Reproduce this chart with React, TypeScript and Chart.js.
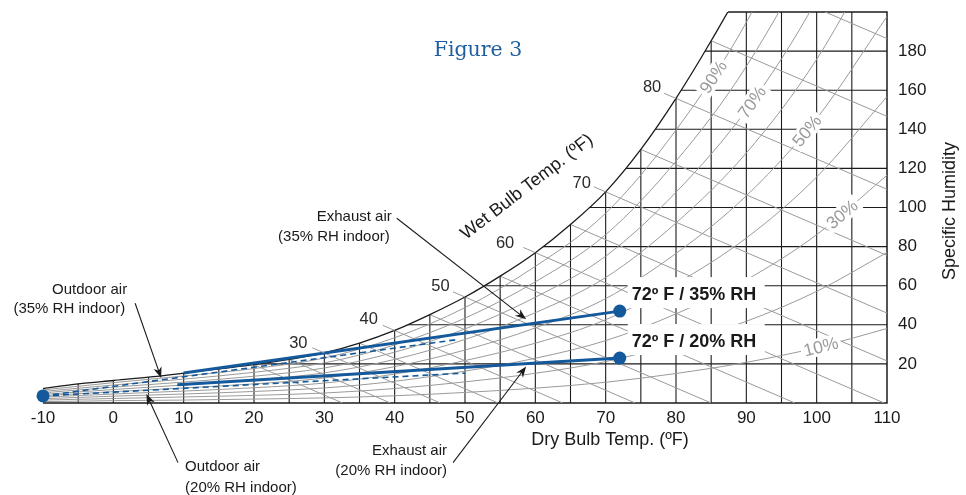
import React, { useEffect, useRef } from 'react';
import { Chart, registerables } from 'chart.js';

Chart.register(...registerables);

const SANS = '"Liberation Sans", Arial, Helvetica, sans-serif';
const SERIF = '"DejaVu Serif", serif';
const BLUE = '#13599b';
const GRAY = '#9a9a9a';
const INK = '#1b1b1b';

// ---- axes ----
const dryBulbMin = -10;
const dryBulbMax = 110;
const dryBulbTickStep = 10;
const gridDryBulbStep = 5;
const humidityMin = 0;
const humidityMax = 200;
const humidityTickStep = 20;

// ---- saturation curve (100% RH) ----
const satT = [-10, -5, 0, 5, 10, 15, 20, 25, 30, 35, 40, 45, 50, 55, 60, 65, 70, 75, 80, 85, 90, 95, 100, 105, 110];
const satW = [7.4, 9.8, 11.5, 13.2, 15.3, 17.5, 19.6, 22.3, 25.6, 30.6, 37.1, 45.2, 54.2, 64.9, 76.9, 91.3, 108, 129.7, 155.8, 185.3, 217.4, 256, 301, 354, 414];

// ---- relative humidity curves ----
const rhT = [-10, 0, 10, 20, 30, 40, 50, 60, 70, 80, 90, 100, 110];
const rh10 = [0.7, 1.2, 1.5, 2.0, 2.6, 3.7, 5.4, 7.6, 10.6, 15.1, 20.8, 28.3, 38.1];
const rh20 = [1.5, 2.3, 3.1, 3.9, 5.1, 7.4, 10.8, 15.2, 21.2, 30.3, 41.8, 57.1, 77.0];
const rh30 = [2.2, 3.5, 4.6, 5.9, 7.7, 11.1, 16.3, 22.9, 31.9, 45.6, 63.0, 86.1, 116.5];
const rh40 = [3.0, 4.6, 6.1, 7.8, 10.2, 14.8, 21.7, 30.6, 42.6, 61.0, 84.4, 115.6, 156.7];
const rh50 = [3.7, 5.8, 7.7, 9.8, 12.8, 18.6, 27.1, 38.4, 53.4, 76.5, 106.0, 145.5, 197.7];
const rh60 = [4.4, 6.9, 9.2, 11.8, 15.4, 22.3, 32.5, 46.2, 64.2, 92.1, 127.9, 175.8, 239.4];
const rh70 = [5.2, 8.1, 10.7, 13.7, 17.9, 26.0, 37.9, 54.1, 75.1, 107.8, 149.9, 206.4, 281.8];
const rh80 = [5.9, 9.2, 12.2, 15.7, 20.5, 29.7, 43.4, 62.0, 86.1, 123.7, 172.2, 237.5, 325.1];
const rh90 = [6.7, 10.4, 13.8, 17.6, 23.0, 33.4, 48.8, 69.9, 97.1, 139.6, 194.7, 269.0, 369.2];
const rhLevels = [10, 20, 30, 40, 50, 60, 70, 80, 90];
const rhCurves = [rh10, rh20, rh30, rh40, rh50, rh60, rh70, rh80, rh90];

// RH curve labels
const rhLabelLevel = [90, 70, 50, 30, 10];
const rhLabelT = [85.3, 90.8, 98.6, 103.6, 100.6];

// ---- wet bulb lines ----
const wetBulbT = [20, 25, 30, 35, 40, 45, 50, 55, 60, 65, 70, 75, 80, 85, 90];
const wetBulbEndT = [32.6, 39.4, 46.5, 54.7, 63.9, 74.2, 85, 96.9, 109.6, 110, 110, 110, 110, 110, 110];
const wetBulbEndW = [0, 0, 0, 0, 0, 0, 0, 0, 0, 21.5, 46, 75.5, 109.3, 146.6, 186.4];
const wetBulbLabels = ['30', '40', '50', '60', '70', '80'];
const wetBulbLabelT = [26.3, 36.3, 46.5, 55.7, 66.6, 76.6];
const wetBulbLabelW = [30.5, 42.6, 59.7, 81.7, 112.4, 161.6];

// ---- process lines ----
const statePointT = [-10, 72, 72];
const statePointW = [3.6, 47, 23];
const stateLabels = ['', '72º F / 35% RH', '72º F / 20% RH'];
const exhaust35T = [10, 72];
const exhaust35W = [15.3, 47];
const exhaust20T = [9.1, 72];
const exhaust20W = [9.3, 23];
const outdoor35T = [-10, 49];
const outdoor35W = [3.6, 32.5];
const outdoor20T = [-10, 50];
const outdoor20W = [3.6, 15.3];

// ---- annotations (arrow tail -> tip) ----
const noteLines = [
  ['Outdoor air', '(35% RH indoor)'],
  ['Outdoor air', '(20% RH indoor)'],
  ['Exhaust air', '(35% RH indoor)'],
  ['Exhaust air', '(20% RH indoor)'],
];
const noteTailT = [3.1, 9.2, 40.3, 48.3];
const noteTailW = [51, -30.5, 94.5, -30.5];
const noteTipT = [6.8, 4.7, 58.7, 58.7];
const noteTipW = [12.8, 4.6, 42.8, 18.7];

const pts = (t: number[], w: number[]) => t.map((v, i) => ({ x: v, y: w[i] }));

function drawArrow(ctx: CanvasRenderingContext2D, x1: number, y1: number, x2: number, y2: number) {
  const ang = Math.atan2(y2 - y1, x2 - x1);
  const c = Math.cos(ang), s = Math.sin(ang);
  const len = 11, half = 4.2;
  const bx = x2 - len * c, by = y2 - len * s;
  ctx.beginPath();
  ctx.moveTo(x1, y1);
  ctx.lineTo(x2 - 6 * c, y2 - 6 * s);
  ctx.stroke();
  ctx.beginPath();
  ctx.moveTo(x2, y2);
  ctx.lineTo(bx - half * s, by + half * c);
  ctx.lineTo(x2 - 0.7 * len * c, y2 - 0.7 * len * s);
  ctx.lineTo(bx + half * s, by - half * c);
  ctx.closePath();
  ctx.fill();
}

function linearAt(T: number[], W: number[], t: number) {
  for (let i = 0; i < T.length - 1; i++) {
    if (t >= T[i] && t <= T[i + 1]) {
      const f = (t - T[i]) / (T[i + 1] - T[i]);
      return W[i] + f * (W[i + 1] - W[i]);
    }
  }
  return W[W.length - 1];
}

const psychroPlugin = {
  id: 'psychro',
  beforeDatasetsDraw(chart: any) {
    const { ctx, chartArea: a, scales } = chart;
    const x = scales.x, y = scales.y;
    const satIdx = chart.data.datasets.findIndex((d: any) => d.label === 'Saturation');
    const line = chart.getDatasetMeta(satIdx).dataset;
    ctx.save();
    ctx.beginPath();
    ctx.rect(a.left - 2, a.top - 2, a.right - a.left + 4, a.bottom - a.top + 4);
    ctx.clip();
    ctx.beginPath();
    if (line && typeof line.path === 'function') {
      if (typeof line.updateControlPoints === 'function') line.updateControlPoints(a, 'x');
      line.path(ctx);
    } else {
      satT.forEach((t, i) => {
        const px = x.getPixelForValue(t), py = y.getPixelForValue(satW[i]);
        if (i === 0) ctx.moveTo(px, py); else ctx.lineTo(px, py);
      });
    }
    const last = satT.length - 1;
    ctx.lineTo(x.getPixelForValue(satT[last]) + 3, y.getPixelForValue(satW[last]));
    ctx.lineTo(a.right + 3, a.bottom + 3);
    ctx.lineTo(a.left - 3, a.bottom + 3);
    ctx.closePath();
    ctx.clip();

    ctx.strokeStyle = INK;
    ctx.lineWidth = 1.1;
    ctx.beginPath();
    for (let t = dryBulbMin + gridDryBulbStep; t < dryBulbMax; t += gridDryBulbStep) {
      const px = x.getPixelForValue(t);
      ctx.moveTo(px, a.bottom);
      ctx.lineTo(px, a.top);
    }
    for (let w = humidityMin + humidityTickStep; w < humidityMax; w += humidityTickStep) {
      const py = y.getPixelForValue(w);
      ctx.moveTo(a.left, py);
      ctx.lineTo(a.right, py);
    }
    ctx.stroke();
    ctx.lineWidth = 1.5;
    ctx.beginPath();
    ctx.moveTo(a.left, a.bottom);
    ctx.lineTo(a.right, a.bottom);
    ctx.lineTo(a.right, a.top);
    ctx.lineTo(a.left, a.top);
    ctx.stroke();
    ctx.restore();
  },
  afterDatasetsDraw(chart: any) {
    const { ctx, scales } = chart;
    const x = scales.x, y = scales.y;
    const X = (t: number) => x.getPixelForValue(t);
    const Y = (w: number) => y.getPixelForValue(w);
    ctx.save();

    // wet bulb leaders + labels
    ctx.font = `16.5px ${SANS}`;
    ctx.textAlign = 'center';
    ctx.textBaseline = 'middle';
    wetBulbLabels.forEach((lab, i) => {
      const twb = Number(lab);
      const k = wetBulbT.indexOf(twb);
      const sIdx = satT.indexOf(twb);
      const sx = X(twb), sy = Y(satW[sIdx]);
      const ex = X(wetBulbEndT[k]), ey = Y(wetBulbEndW[k]);
      const d = Math.hypot(ex - sx, ey - sy);
      const dx = (ex - sx) / d, dy = (ey - sy) / d;
      ctx.strokeStyle = GRAY;
      ctx.lineWidth = 1;
      ctx.beginPath();
      ctx.moveTo(sx, sy);
      ctx.lineTo(sx - 13 * dx, sy - 13 * dy);
      ctx.stroke();
      ctx.fillStyle = '#2a2a2a';
      ctx.fillText(lab, X(wetBulbLabelT[i]), Y(wetBulbLabelW[i]));
    });

    // RH labels
    ctx.font = `17.5px ${SANS}`;
    rhLabelLevel.forEach((lvl, i) => {
      const ri = rhLevels.indexOf(lvl);
      const dsIdx = chart.data.datasets.findIndex((d: any) => d.label === `RH ${lvl}`);
      const el = chart.getDatasetMeta(dsIdx).dataset;
      const T = rhLabelT[i];
      const at = (t: number) => {
        let p: any = null;
        try {
          if (el && typeof el.interpolate === 'function') p = el.interpolate({ x: X(t) }, 'x');
        } catch (e) { p = null; }
        if (!p || !isFinite(p.y)) p = { x: X(t), y: Y(linearAt(rhT, rhCurves[ri], t)) };
        return p;
      };
      const p = at(T), p1 = at(T - 0.6), p2 = at(T + 0.6);
      const ang = Math.atan2(p2.y - p1.y, p2.x - p1.x);
      const txt = `${lvl}%`;
      ctx.save();
      ctx.translate(p.x, p.y);
      ctx.rotate(ang);
      const w = ctx.measureText(txt).width;
      ctx.fillStyle = '#ffffff';
      ctx.fillRect(-w / 2 - 3, -9, w + 6, 18);
      ctx.fillStyle = GRAY;
      ctx.fillText(txt, 0, 1);
      ctx.restore();
    });

    // state point labels
    ctx.font = `bold 18px ${SANS}`;
    ctx.textAlign = 'left';
    stateLabels.forEach((lab, i) => {
      if (!lab) return;
      const dx = X(statePointT[i]), dy = Y(statePointW[i]);
      ctx.fillStyle = '#ffffff';
      ctx.fillRect(dx + 8, dy - 34, 137, 31);
      ctx.fillStyle = '#1a1a1a';
      ctx.fillText(lab, dx + 12, dy - 16);
    });

    // annotations
    ctx.strokeStyle = '#1a1a1a';
    ctx.fillStyle = '#1a1a1a';
    ctx.lineWidth = 1.1;
    ctx.font = `15px ${SANS}`;
    noteLines.forEach((lines, i) => {
      const tx = X(noteTailT[i]), ty = Y(noteTailW[i]);
      const hx = X(noteTipT[i]), hy = Y(noteTipW[i]);
      drawArrow(ctx, tx, ty, hx, hy);
      ctx.textBaseline = 'middle';
      if (i === 0) {
        ctx.textAlign = 'right';
        ctx.fillText(lines[0], tx - 8, ty - 13);
        ctx.fillText(lines[1], tx - 10, ty + 6);
      } else if (i === 1) {
        ctx.textAlign = 'left';
        ctx.fillText(lines[0], tx + 7, ty + 4);
        ctx.fillText(lines[1], tx + 7, ty + 25);
      } else if (i === 2) {
        ctx.textAlign = 'right';
        ctx.fillText(lines[0], tx - 5, ty - 1);
        ctx.fillText(lines[1], tx - 7, ty + 19);
      } else {
        ctx.textAlign = 'right';
        ctx.fillText(lines[0], tx - 6, ty - 12);
        ctx.fillText(lines[1], tx - 6, ty + 8);
      }
    });

    // titles
    ctx.fillStyle = '#1f5e9e';
    ctx.font = `20.5px ${SERIF}`;
    ctx.textAlign = 'center';
    ctx.textBaseline = 'alphabetic';
    ctx.fillText('Figure 3', 478, 56);

    ctx.fillStyle = '#1a1a1a';
    ctx.font = `18px ${SANS}`;
    ctx.textBaseline = 'middle';
    ctx.fillText('Dry Bulb Temp. (ºF)', 610, 440);

    ctx.save();
    ctx.translate(527, 187);
    ctx.rotate(-37.5 * Math.PI / 180);
    ctx.fillText('Wet Bulb Temp. (ºF)', 0, 0);
    ctx.restore();

    ctx.save();
    ctx.translate(950, 211);
    ctx.rotate(-Math.PI / 2);
    ctx.fillText('Specific Humidity', 0, 0);
    ctx.restore();

    ctx.restore();
  },
};

export default function App() {
  const ref = useRef<HTMLCanvasElement | null>(null);
  useEffect(() => {
    if (!ref.current) return;
    const datasets: any[] = [];
    datasets.push({
      label: 'State points', data: pts(statePointT, statePointW), showLine: false,
      pointRadius: 6.5, pointBackgroundColor: BLUE, pointBorderColor: BLUE, pointBorderWidth: 0, clip: false,
    });
    datasets.push({ label: 'Exhaust 35', data: pts(exhaust35T, exhaust35W), showLine: true, borderColor: BLUE, borderWidth: 3, pointRadius: 0, clip: false });
    datasets.push({ label: 'Exhaust 20', data: pts(exhaust20T, exhaust20W), showLine: true, borderColor: BLUE, borderWidth: 3, pointRadius: 0, clip: false });
    datasets.push({ label: 'Outdoor 35', data: pts(outdoor35T, outdoor35W), showLine: true, borderColor: BLUE, borderWidth: 1.6, borderDash: [6, 4], pointRadius: 0, clip: false });
    datasets.push({ label: 'Outdoor 20', data: pts(outdoor20T, outdoor20W), showLine: true, borderColor: BLUE, borderWidth: 1.6, borderDash: [6, 4], pointRadius: 0, clip: false });
    datasets.push({
      label: 'Saturation', data: pts(satT, satW), showLine: true, borderColor: INK, borderWidth: 1.3,
      pointRadius: 0, cubicInterpolationMode: 'monotone', capBezierPoints: false,
    });
    rhLevels.forEach((lvl, i) => {
      datasets.push({
        label: `RH ${lvl}`, data: pts(rhT, rhCurves[i]), showLine: true, borderColor: GRAY, borderWidth: 1,
        pointRadius: 0, cubicInterpolationMode: 'monotone', capBezierPoints: false,
      });
    });
    wetBulbT.forEach((t, i) => {
      datasets.push({
        label: `WB ${t}`,
        data: [{ x: t, y: satW[satT.indexOf(t)] }, { x: wetBulbEndT[i], y: wetBulbEndW[i] }],
        showLine: true, borderColor: GRAY, borderWidth: 1, pointRadius: 0,
      });
    });

    const noPad = (s: any) => {
      s.paddingTop = 0;
      s.paddingBottom = 0;
      s.paddingLeft = 0;
      s.paddingRight = 0;
    };

    const chart = new Chart(ref.current, {
      type: 'scatter',
      data: { datasets },
      options: {
        responsive: false,
        animation: false,
        devicePixelRatio: 1,
        layout: { padding: { left: 43, top: 12, right: 0, bottom: 0 } },
        plugins: { legend: { display: false }, tooltip: { enabled: false }, title: { display: false } },
        events: [],
        scales: {
          x: {
            type: 'linear', position: 'bottom', min: dryBulbMin, max: dryBulbMax,
            grid: { display: false, drawTicks: false }, border: { display: false },
            ticks: { stepSize: dryBulbTickStep, padding: 5, color: '#1a1a1a', font: { family: SANS, size: 17 }, maxRotation: 0, autoSkip: false },
            afterFit: (s: any) => { s.height = 92; noPad(s); },
          },
          y: {
            type: 'linear', position: 'right', min: humidityMin, max: humidityMax,
            grid: { display: false, drawTicks: false }, border: { display: false },
            ticks: {
              stepSize: humidityTickStep, padding: 11, color: '#1a1a1a', font: { family: SANS, size: 17 },
              callback: (v: any) => (v === humidityMin || v === humidityMax ? '' : String(v)),
            },
            afterFit: (s: any) => { s.width = 79; noPad(s); },
          },
        },
      } as any,
      plugins: [psychroPlugin as any],
    });
    return () => chart.destroy();
  }, []);
  return (
    <div style={{ position: 'absolute', left: 0, top: 0, width: 966, height: 495, background: '#fff' }}>
      <canvas ref={ref} width={966} height={495} style={{ display: 'block' }} />
    </div>
  );
}
